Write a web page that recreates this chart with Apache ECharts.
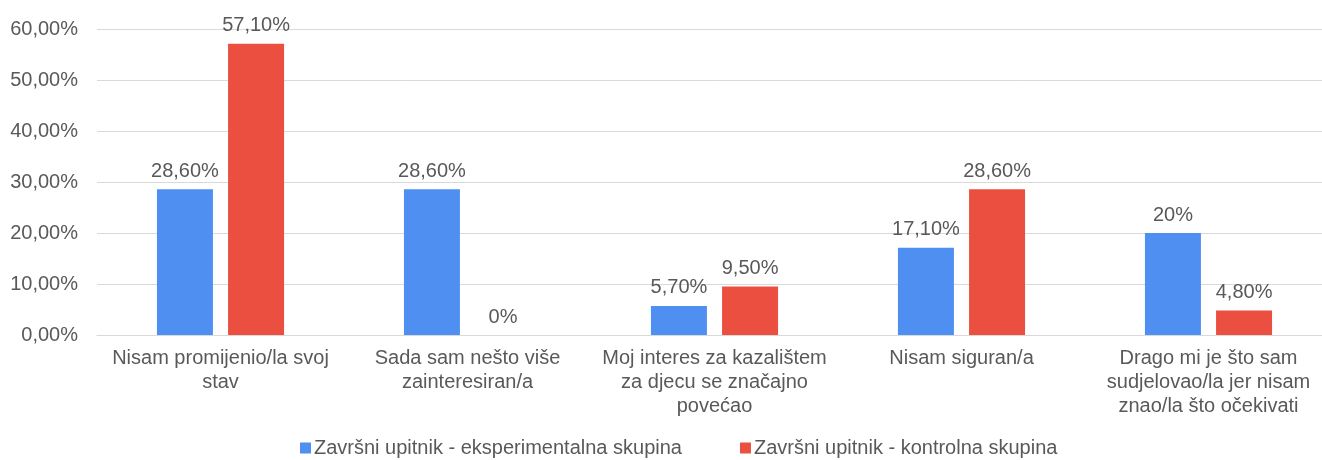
<!DOCTYPE html>
<html>
<head>
<meta charset="utf-8">
<script src="https://cdn.jsdelivr.net/npm/echarts@6/dist/echarts.min.js"></script>
<style>
  html, body { margin: 0; padding: 0; background: #fff; overflow: hidden; }
  /* the original picture is cropped on the right, so the chart is a bit wider than the window */
  #main { width: 1332px; height: 460px; }
</style>
</head>
<body>
<div id="main"></div>
<script>
// categories (x axis), wrapped like the original
var categories = [
  'Nisam promijenio/la svoj\nstav',
  'Sada sam nešto više\nzainteresiran/a',
  'Moj interes za kazalištem\nza djecu se značajno\npovećao',
  'Nisam siguran/a',
  'Drago mi je što sam\nsudjelovao/la jer nisam\nznao/la što očekivati'
];

var seriesNames = [
  'Završni upitnik - eksperimentalna skupina',
  'Završni upitnik - kontrolna skupina'
];

// values in percent
var expValues = [28.6, 28.6, 5.7, 17.1, 20];
var ctrlValues = [57.1, 0, 9.5, 28.6, 4.8];

// label text as printed on the chart
var expLabels = ['28,60%', '28,60%', '5,70%', '17,10%', '20%'];
var ctrlLabels = ['57,10%', '0%', '9,50%', '28,60%', '4,80%'];

var yTicks = [0, 10, 20, 30, 40, 50, 60];

var txt = '#595959';
var font = 'Liberation Sans, Arial, sans-serif';

var myChart = echarts.init(document.getElementById('main'));

var option = {
  animation: false,
  textStyle: { fontFamily: font },
  grid: { left: 97, right: 0, top: 29, bottom: 125 },
  legend: {
    data: seriesNames,
    bottom: -3,
    left: 295,
    icon: 'rect',
    itemWidth: 11,
    itemHeight: 11,
    itemGap: 58,
    textStyle: { color: txt, fontSize: 20, fontFamily: font, padding: [0, 0, 0, -2] }
  },
  xAxis: {
    type: 'category',
    data: categories,
    axisTick: { show: false },
    axisLine: { lineStyle: { color: '#d9d9d9' } },
    axisLabel: {
      color: txt,
      fontSize: 20,
      lineHeight: 24,
      margin: 11,
      interval: 0,
      align: 'center'
    }
  },
  yAxis: {
    type: 'value',
    min: yTicks[0],
    max: yTicks[yTicks.length - 1],
    interval: 10,
    axisLine: { show: false },
    axisTick: { show: false },
    splitLine: { lineStyle: { color: '#d9d9d9' } },
    axisLabel: {
      color: txt,
      fontSize: 20,
      margin: 19,
      formatter: function (v) { return v.toFixed(2).replace('.', ',') + '%'; }
    }
  },
  series: [
    {
      name: seriesNames[0],
      type: 'bar',
      data: expValues,
      barWidth: 56,
      barGap: '27%',
      itemStyle: { color: '#4f8ff2' },
      label: {
        show: true,
        position: 'top',
        distance: 8,
        color: txt,
        fontSize: 20,
        formatter: function (p) { return expLabels[p.dataIndex]; }
      }
    },
    {
      name: seriesNames[1],
      type: 'bar',
      data: ctrlValues,
      barWidth: 56,
      itemStyle: { color: '#eb4f40' },
      label: {
        show: true,
        position: 'top',
        distance: 8,
        color: txt,
        fontSize: 20,
        formatter: function (p) { return ctrlLabels[p.dataIndex]; }
      }
    }
  ]
};

myChart.setOption(option);
</script>
</body>
</html>
